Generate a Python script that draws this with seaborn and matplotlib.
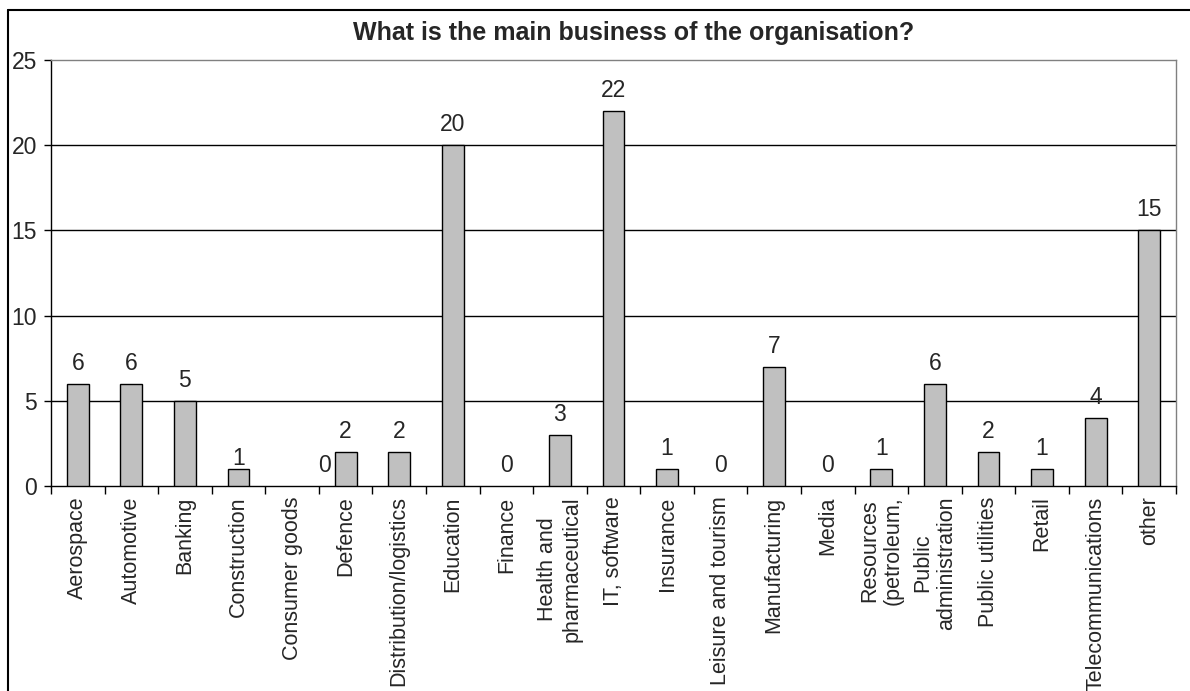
import matplotlib
matplotlib.use("Agg")
import matplotlib.pyplot as plt
import seaborn as sns
import pandas as pd
from matplotlib.lines import Line2D

categories = ["Aerospace", "Automotive", "Banking", "Construction", "Consumer goods",
              "Defence", "Distribution/logistics", "Education", "Finance",
              "Health and\npharmaceutical", "IT, software", "Insurance",
              "Leisure and tourism", "Manufacturing", "Media",
              "Resources\n(petroleum,", "Public\nadministration", "Public utilities",
              "Retail", "Telecommunications", "other"]
values = [6, 6, 5, 1, 0, 2, 2, 20, 0, 3, 22, 1, 0, 7, 0, 1, 6, 2, 1, 4, 15]
title = "What is the main business of the organisation?"
yticks = [0, 5, 10, 15, 20, 25]

sns.set_style("white")
plt.rcParams['font.family'] = ['Liberation Sans', 'DejaVu Sans']

FS = 16.5
FSX = 15.5

fig = plt.figure(figsize=(11.9, 6.91), dpi=100)
ax = fig.add_axes([51/1190, 1-486/691, (1176-51)/1190, (486-60)/691])

df = pd.DataFrame({"cat": categories, "val": values})
sns.barplot(data=df, x="cat", y="val", ax=ax, color="#c0c0c0", saturation=1,
            width=0.41, edgecolor="black", linewidth=1.0, zorder=3)

for p, v in zip(ax.patches, values):
    if v == 0:
        p.set_visible(False)

ax.set_xlim(-0.5, len(categories) - 0.5)
ax.set_ylim(0, 25)
ax.set_yticks(yticks)
ax.set_xlabel("")
ax.set_ylabel("")

for y in yticks[1:-1]:
    ax.axhline(y, color="black", lw=1.0, zorder=1)

for s in ["left", "bottom"]:
    ax.spines[s].set_color("black")
    ax.spines[s].set_linewidth(1.0)
for s in ["top", "right"]:
    ax.spines[s].set_visible(True)
    ax.spines[s].set_color("#808080")
    ax.spines[s].set_linewidth(1.0)

ax.tick_params(axis="y", direction="out", length=5, width=1, color="black",
               pad=5, labelsize=FS, left=True)
ax.set_xticks(range(len(categories)))
ax.set_xticklabels(categories, rotation=90, fontsize=FSX, multialignment="center")
ax.tick_params(axis="x", which="major", length=0, pad=7.5)
ax.set_xticks([i + 0.5 for i in range(-1, len(categories))], minor=True)
ax.tick_params(axis="x", which="minor", direction="out", length=6, width=1,
               color="black", bottom=True)

for i, v in enumerate(values):
    xoff, yoff = 0, 6.5
    if categories[i] == "Consumer goods":
        xoff = 0.6
    if categories[i] == "Construction":
        yoff = -1
    ax.annotate(str(v), xy=(i + xoff, v), xytext=(0, yoff), textcoords="offset points",
                ha="center", va="bottom", fontsize=FS, zorder=4)

fig.text(634/1190, 1-33/691, title, ha="center", va="center",
         fontsize=18, fontweight="bold")

# outer chart frame (top and left edges)
fig.add_artist(Line2D([8/1190, 1.0], [1-10/691, 1-10/691], transform=fig.transFigure,
                      color="black", lw=1.5))
fig.add_artist(Line2D([8/1190, 8/1190], [0, 1-10/691], transform=fig.transFigure,
                      color="black", lw=1.5))

fig.savefig("out.png", dpi=100)
